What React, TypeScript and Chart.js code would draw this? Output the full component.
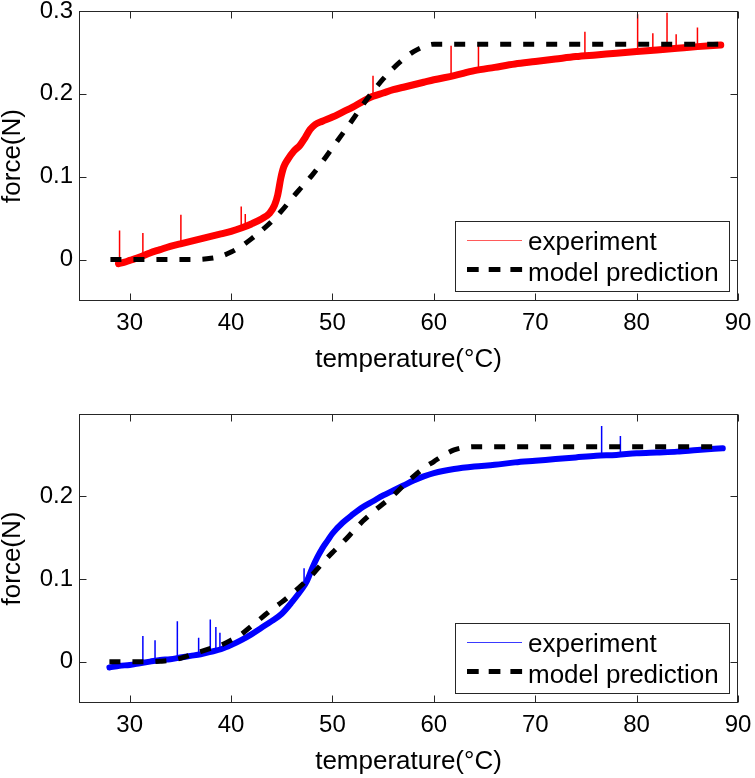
import React, { useEffect, useRef } from "react";
import { Chart, registerables } from "chart.js";

Chart.register(...registerables);

const FONT = '"Liberation Sans", Arial, Helvetica, sans-serif';

// ---- axes ----
const xTickValues = [30, 40, 50, 60, 70, 80, 90];
const xTickLabels = ["30", "40", "50", "60", "70", "80", "90"];
const topYTickValues = [0, 0.1, 0.2, 0.3];
const topYTickLabels = ["0", "0.1", "0.2", "0.3"];
const bottomYTickValues = [0, 0.1, 0.2];
const bottomYTickLabels = ["0", "0.1", "0.2"];
const xTitle = "temperature(°C)";
const yTitle = "force(N)";
const legendLabels = ["experiment", "model prediction"];

// ---- top panel (red experiment) ----
const topExpTemp = [28.9, 29.5, 30, 31, 32, 33, 34, 35, 36, 37, 38, 39, 40, 41, 42, 43, 43.8, 44.3, 44.6, 44.9, 45.2, 45.6, 46.2, 46.8, 47.3, 47.8, 48.3, 49, 50, 51, 52, 53, 54, 55, 56, 57, 58, 59, 60, 62, 64, 66, 68, 70, 72, 74, 76, 78, 80, 82, 84, 86, 88.3];
const topExpForce = [-0.005, -0.003, -0.001, 0.003, 0.008, 0.012, 0.016, 0.019, 0.022, 0.025, 0.028, 0.031, 0.034, 0.038, 0.043, 0.049, 0.056, 0.066, 0.078, 0.098, 0.112, 0.121, 0.131, 0.138, 0.147, 0.157, 0.163, 0.167, 0.172, 0.178, 0.184, 0.191, 0.197, 0.201, 0.205, 0.208, 0.211, 0.214, 0.217, 0.222, 0.228, 0.232, 0.236, 0.239, 0.242, 0.245, 0.247, 0.249, 0.251, 0.253, 0.255, 0.257, 0.259];
const topSpikeTemp = [29.0, 31.3, 35.05, 41.0, 41.4, 54.0, 61.7, 64.4, 74.9, 80.1, 81.6, 83.0, 83.9, 86.0];
const topSpikeBase = [-0.004, 0.003, 0.019, 0.038, 0.04, 0.197, 0.221, 0.228, 0.246, 0.251, 0.252, 0.254, 0.254, 0.257];
const topSpikePeak = [0.035, 0.032, 0.054, 0.064, 0.055, 0.222, 0.258, 0.259, 0.275, 0.296, 0.273, 0.298, 0.272, 0.28];
const topModelTemp = [28.1, 30, 32, 34, 36, 37, 38, 39, 40, 41, 42, 43, 44, 45, 46, 47, 48, 49, 50, 51, 52, 53, 54, 55, 56, 57, 58, 59, 60, 65, 70, 75, 80, 85, 88.3];
const topModelForce = [0, 0, 0, 0, 0, 0.0003, 0.0015, 0.004, 0.009, 0.016, 0.025, 0.035, 0.046, 0.059, 0.074, 0.088, 0.102, 0.118, 0.135, 0.152, 0.169, 0.187, 0.203, 0.218, 0.231, 0.242, 0.251, 0.257, 0.26, 0.26, 0.26, 0.26, 0.26, 0.26, 0.26];

// ---- bottom panel (blue experiment) ----
const botExpTemp = [28, 29, 30, 31, 32, 33, 34, 35, 36, 37, 38, 39, 40, 41, 42, 43, 44, 45, 46, 47, 47.5, 48, 48.5, 49, 49.5, 50, 51, 52, 53, 54, 55, 56, 57, 58, 59, 60, 62, 64, 66, 68, 70, 72, 74, 76, 78, 80, 82, 84, 86, 88.5];
const botExpForce = [-0.007, -0.005, -0.004, -0.002, 0.0, 0.002, 0.003, 0.005, 0.007, 0.009, 0.012, 0.015, 0.02, 0.026, 0.033, 0.041, 0.049, 0.058, 0.072, 0.088, 0.098, 0.113, 0.126, 0.137, 0.146, 0.155, 0.168, 0.178, 0.187, 0.194, 0.201, 0.207, 0.213, 0.219, 0.224, 0.228, 0.233, 0.236, 0.238, 0.241, 0.243, 0.245, 0.247, 0.249, 0.25, 0.252, 0.253, 0.254, 0.256, 0.258];
const botSpikeTemp = [31.3, 32.5, 34.7, 36.8, 37.95, 38.5, 38.9, 47.2, 76.55, 78.4];
const botSpikeBase = [-0.002, 0.0, 0.004, 0.008, 0.011, 0.013, 0.014, 0.09, 0.249, 0.25];
const botSpikePeak = [0.031, 0.026, 0.049, 0.029, 0.051, 0.042, 0.035, 0.113, 0.285, 0.273];
const botModelTemp = [28, 30, 32, 33, 34, 35, 36, 37, 38, 39, 40, 41, 42, 43, 44, 45, 46, 47, 48, 49, 50, 51, 52, 53, 54, 55, 56, 57, 58, 59, 60, 61, 62, 63, 64, 70, 75, 80, 85, 88.5];
const botModelForce = [0, 0, 0, 0.0005, 0.0015, 0.004, 0.008, 0.012, 0.016, 0.02, 0.026, 0.033, 0.043, 0.053, 0.063, 0.072, 0.082, 0.093, 0.105, 0.119, 0.132, 0.144, 0.157, 0.17, 0.181, 0.191, 0.201, 0.213, 0.224, 0.234, 0.242, 0.25, 0.256, 0.259, 0.26, 0.26, 0.26, 0.26, 0.26, 0.26];

type PanelCfg = {
  expTemp: number[];
  expForce: number[];
  spikeTemp: number[];
  spikeBase: number[];
  spikePeak: number[];
  modelTemp: number[];
  modelForce: number[];
  color: string;
  legendColor: string;
  bandWidth: number;
  yMin: number;
  yMax: number;
  yTicks: number[];
  yLabels: string[];
  padTop: number;
};

const pairs = (xs: number[], ys: number[]) => xs.map((x, i) => ({ x, y: ys[i] }));

const spikePoints = (ts: number[], bs: number[], ps: number[]) => {
  const out: { x: number; y: number | null }[] = [];
  ts.forEach((t, i) => {
    out.push({ x: t, y: bs[i] });
    out.push({ x: t, y: ps[i] });
    out.push({ x: t, y: null });
  });
  return out;
};

const framePlugin = {
  id: "frameTicks",
  afterDraw(chart: any, _args: any, opts: any) {
    const { ctx, chartArea: a, scales } = chart;
    ctx.save();
    const L = Math.round(a.left) + 0.5;
    const R = Math.round(a.right) - 0.5;
    const T = Math.round(a.top) + 0.5;
    const B = Math.round(a.bottom) - 0.5;
    ctx.strokeStyle = "#262626";
    ctx.lineWidth = 1;
    ctx.setLineDash([]);
    ctx.strokeRect(L, T, R - L, B - T);
    const tl = 7;
    ctx.beginPath();
    for (const v of opts.xTicks) {
      const px = Math.round(scales.x.getPixelForValue(v)) + 0.5;
      ctx.moveTo(px, B);
      ctx.lineTo(px, B - tl);
      ctx.moveTo(px, T);
      ctx.lineTo(px, T + tl);
    }
    for (const v of opts.yTicks) {
      const py = Math.round(scales.y.getPixelForValue(v)) + 0.5;
      ctx.moveTo(L, py);
      ctx.lineTo(L + tl, py);
      ctx.moveTo(R, py);
      ctx.lineTo(R - tl, py);
    }
    ctx.stroke();

    // legend box
    const w = 274;
    const h = 70;
    const bx = Math.round(a.right - 9.5 - w);
    const by = Math.round(a.bottom - 9.7 - h);
    ctx.fillStyle = "#ffffff";
    ctx.fillRect(bx, by, w, h);
    ctx.strokeStyle = "#262626";
    ctx.lineWidth = 1;
    ctx.strokeRect(bx + 0.5, by + 0.5, w, h);
    ctx.strokeStyle = opts.legendColor;
    ctx.lineWidth = 1;
    ctx.beginPath();
    ctx.moveTo(bx + 12, by + 19.5);
    ctx.lineTo(bx + 67, by + 19.5);
    ctx.stroke();
    ctx.strokeStyle = "#000000";
    ctx.lineWidth = 5;
    ctx.lineCap = "butt";
    ctx.setLineDash([11.7, 10]);
    ctx.beginPath();
    ctx.moveTo(bx + 12, by + 48.5);
    ctx.lineTo(bx + 67.1, by + 48.5);
    ctx.stroke();
    ctx.setLineDash([]);
    ctx.fillStyle = "#000000";
    ctx.font = `26px ${FONT}`;
    ctx.textAlign = "left";
    ctx.textBaseline = "alphabetic";
    ctx.fillText(opts.labels[0], bx + 73, by + 28.5);
    ctx.fillText(opts.labels[1], bx + 73, by + 59.5);
    ctx.restore();
  },
};

function buildConfig(p: PanelCfg): any {
  const labelFor = (vals: number[], labels: string[]) => (v: any) => {
    const i = vals.findIndex((t) => Math.abs(t - Number(v)) < 1e-9);
    return i >= 0 ? labels[i] : "";
  };
  return {
    type: "line",
    data: {
      datasets: [
        {
          label: legendLabels[1],
          data: pairs(p.modelTemp, p.modelForce),
          borderColor: "#000000",
          borderWidth: 5,
          borderDash: [11, 12],
          borderCapStyle: "butt",
          pointRadius: 0,
          fill: false,
          cubicInterpolationMode: "monotone",
          order: 0,
        },
        {
          label: legendLabels[0] + " spikes",
          data: spikePoints(p.spikeTemp, p.spikeBase, p.spikePeak),
          borderColor: p.color,
          borderWidth: 1.5,
          pointRadius: 0,
          fill: false,
          spanGaps: false,
          tension: 0,
          order: 1,
        },
        {
          label: legendLabels[0],
          data: pairs(p.expTemp, p.expForce),
          borderColor: p.color,
          borderWidth: p.bandWidth,
          borderJoinStyle: "round",
          borderCapStyle: "round",
          pointRadius: 0,
          fill: false,
          cubicInterpolationMode: "monotone",
          order: 2,
        },
      ],
    },
    options: {
      animation: false,
      responsive: false,
      devicePixelRatio: 1,
      events: [],
      layout: { padding: { top: p.padTop, right: 17, left: 0, bottom: 0 } },
      plugins: {
        legend: { display: false },
        tooltip: { enabled: false },
        frameTicks: {
          xTicks: xTickValues,
          yTicks: p.yTicks,
          legendColor: p.legendColor,
          labels: legendLabels,
        },
      },
      scales: {
        x: {
          type: "linear",
          min: 25,
          max: 90,
          grid: { display: false, drawTicks: false },
          border: { display: false },
          afterBuildTicks: (s: any) => {
            s.ticks = xTickValues.map((v) => ({ value: v }));
          },
          afterFit: (s: any) => {
            s.height = 75;
            s.paddingLeft = 0;
            s.paddingRight = 0;
          },
          ticks: {
            padding: 7.5,
            color: "#000000",
            font: { family: FONT, size: 24 },
            maxRotation: 0,
            autoSkip: false,
            callback: labelFor(xTickValues, xTickLabels),
          },
          title: {
            display: true,
            text: xTitle,
            color: "#000000",
            font: { family: FONT, size: 26, lineHeight: 1.2 },
            padding: { top: 0, bottom: 0.5 },
          },
        },
        y: {
          type: "linear",
          min: p.yMin,
          max: p.yMax,
          grid: { display: false, drawTicks: false },
          border: { display: false },
          afterBuildTicks: (s: any) => {
            s.ticks = p.yTicks.map((v) => ({ value: v }));
          },
          afterFit: (s: any) => {
            s.width = 79;
            s.paddingTop = 0;
            s.paddingBottom = 0;
          },
          ticks: {
            padding: 6,
            color: "#000000",
            font: { family: FONT, size: 24 },
            autoSkip: false,
            callback: labelFor(p.yTicks, p.yLabels),
          },
          title: {
            display: true,
            text: yTitle,
            color: "#000000",
            font: { family: FONT, size: 26, lineHeight: 1 },
            padding: { top: 0, bottom: 0 },
          },
        },
      },
    },
    plugins: [framePlugin],
  };
}

const topCfg: PanelCfg = {
  expTemp: topExpTemp,
  expForce: topExpForce,
  spikeTemp: topSpikeTemp,
  spikeBase: topSpikeBase,
  spikePeak: topSpikePeak,
  modelTemp: topModelTemp,
  modelForce: topModelForce,
  color: "#ff0000",
  legendColor: "#ff5a5a",
  bandWidth: 7,
  yMin: -0.05,
  yMax: 0.3,
  yTicks: topYTickValues,
  yLabels: topYTickLabels,
  padTop: 11,
};

const botCfg: PanelCfg = {
  expTemp: botExpTemp,
  expForce: botExpForce,
  spikeTemp: botSpikeTemp,
  spikeBase: botSpikeBase,
  spikePeak: botSpikePeak,
  modelTemp: botModelTemp,
  modelForce: botModelForce,
  color: "#0000ff",
  legendColor: "#3a3aff",
  bandWidth: 6,
  yMin: -0.05,
  yMax: 0.2995,
  yTicks: bottomYTickValues,
  yLabels: bottomYTickLabels,
  padTop: 12,
};

function Panel({ cfg, top }: { cfg: PanelCfg; top: number }) {
  const ref = useRef<HTMLCanvasElement>(null);
  useEffect(() => {
    const chart = new Chart(ref.current as HTMLCanvasElement, buildConfig(cfg));
    return () => chart.destroy();
  }, [cfg]);
  return (
    <canvas
      ref={ref}
      width={755}
      height={376}
      style={{ position: "absolute", left: 0, top, width: 755, height: 376 }}
    />
  );
}

export default function App() {
  return (
    <div
      style={{
        position: "absolute",
        left: 0,
        top: 0,
        width: 755,
        height: 778,
        background: "#ffffff",
        overflow: "hidden",
      }}
    >
      <Panel cfg={topCfg} top={0} />
      <Panel cfg={botCfg} top={402} />
    </div>
  );
}
